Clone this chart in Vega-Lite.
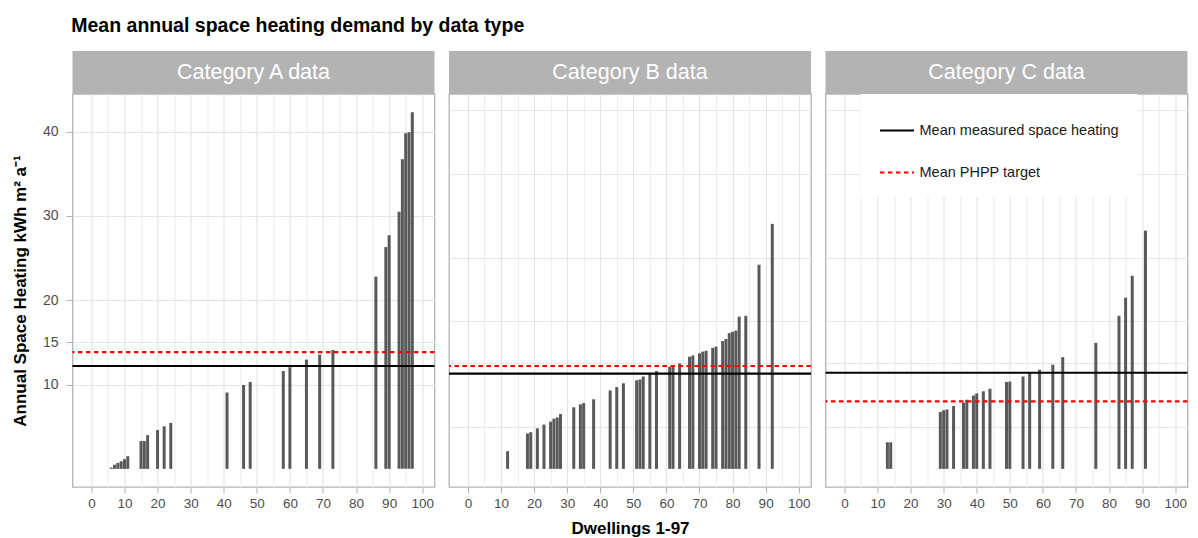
{
  "$schema": "https://vega.github.io/schema/vega-lite/v6.json",
  "padding": {"left": 10.5, "top": 15, "right": 0, "bottom": 0},
  "spacing": 10.5,
  "title": {
    "text": "Mean annual space heating demand by data type",
    "anchor": "start",
    "fontSize": 19.5,
    "fontWeight": "bold",
    "color": "#000000",
    "dx": 60,
    "offset": 15
  },
  "hconcat": [
    {
      "bounds": "flush",
      "spacing": 0,
      "vconcat": [
        {
          "width": 362,
          "height": 43,
          "view": {"fill": "#B3B3B3", "stroke": null},
          "data": {"values": [{"strip": "Category A data"}]},
          "mark": {"type": "text", "color": "#FFFFFF", "fontSize": 21.5, "align": "center", "baseline": "middle"},
          "encoding": {"text": {"field": "strip"}}
        },
        {
          "width": 362,
          "height": 393,
          "resolve": {"axis": {"y": "independent"}},
          "layer": [
            {
              "data": {"values": [
                {"dwelling": 6, "heating": 0.15}, {"dwelling": 7, "heating": 0.5}, {"dwelling": 8, "heating": 0.7},
                {"dwelling": 9, "heating": 0.9}, {"dwelling": 10, "heating": 1.15}, {"dwelling": 11, "heating": 1.5},
                {"dwelling": 15, "heating": 3.3}, {"dwelling": 16, "heating": 3.3}, {"dwelling": 17, "heating": 4.0},
                {"dwelling": 20, "heating": 4.6}, {"dwelling": 22, "heating": 5.05}, {"dwelling": 24, "heating": 5.45},
                {"dwelling": 41, "heating": 9.05}, {"dwelling": 46, "heating": 9.95}, {"dwelling": 48, "heating": 10.3},
                {"dwelling": 58, "heating": 11.6}, {"dwelling": 60, "heating": 12.05}, {"dwelling": 65, "heating": 12.95},
                {"dwelling": 69, "heating": 13.55}, {"dwelling": 73, "heating": 14.1}, {"dwelling": 86, "heating": 22.8},
                {"dwelling": 89, "heating": 26.3}, {"dwelling": 90, "heating": 27.7}, {"dwelling": 93, "heating": 30.5},
                {"dwelling": 94, "heating": 36.7}, {"dwelling": 95, "heating": 39.8}, {"dwelling": 96, "heating": 39.9},
                {"dwelling": 97, "heating": 42.3}
              ]},
              "mark": {"type": "bar", "size": 3, "color": "#595959"},
              "encoding": {
                "x": {
                  "field": "dwelling", "type": "quantitative",
                  "scale": {"domain": [-4.2, 102.2], "nice": false, "zero": false},
                  "axis": {
                    "title": null,
                    "values": [0, 5, 10, 15, 20, 25, 30, 35, 40, 45, 50, 55, 60, 65, 70, 75, 80, 85, 90, 95, 100],
                    "labelExpr": "datum.value % 10 === 0 ? datum.label : ''",
                    "tickOpacity": {"condition": {"test": "datum.value % 10 === 0", "value": 1}, "value": 0},
                    "gridColor": {"condition": {"test": "datum.value % 10 === 0", "value": "#E4E4E4"}, "value": "#EEEEEE"}
                  }
                },
                "y": {
                  "field": "heating", "type": "quantitative",
                  "scale": {"domain": [-2.15, 44.45], "nice": false, "zero": false},
                  "axis": {
                    "title": "Annual Space Heating kWh m² a⁻¹",
                    "orient": "left",
                    "values": [10, 15, 20, 30, 40],
                    "gridColor": "#E4E4E4"
                  }
                },
                "y2": {"datum": 0}
              }
            },
            {
              "data": {"values": [
                {"series": "Mean measured space heating", "mean": 12.2},
                {"series": "Mean PHPP target", "mean": 13.85}
              ]},
              "mark": {"type": "rule", "strokeWidth": 2.2},
              "encoding": {
                "y": {
                  "field": "mean", "type": "quantitative",
                  "axis": {
                    "title": null, "orient": "left", "labels": false, "ticks": false,
                    "values": [5, 12.5, 17.5, 25, 35, 42.5],
                    "gridColor": "#EBEBEB"
                  }
                },
                "color": {
                  "field": "series", "type": "nominal",
                  "scale": {"domain": ["Mean measured space heating", "Mean PHPP target"], "range": ["#000000", "#FF0000"]},
                  "legend": {"title": null, "orient": "none", "legendX": 788, "legendY": 43}
                },
                "strokeDash": {
                  "field": "series", "type": "nominal",
                  "scale": {"domain": ["Mean measured space heating", "Mean PHPP target"], "range": [[1, 0], [4.5, 3.5]]},
                  "legend": {"title": null, "orient": "none", "legendX": 788, "legendY": 43}
                }
              }
            }
          ]
        }
      ]
    },
    {
      "bounds": "flush",
      "spacing": 0,
      "vconcat": [
        {
          "width": 362,
          "height": 43,
          "view": {"fill": "#B3B3B3", "stroke": null},
          "data": {"values": [{"strip": "Category B data"}]},
          "mark": {"type": "text", "color": "#FFFFFF", "fontSize": 21.5, "align": "center", "baseline": "middle"},
          "encoding": {"text": {"field": "strip"}}
        },
        {
          "width": 362,
          "height": 393,
          "layer": [
            {
              "data": {"values": [
                {"dwelling": 12, "heating": 2.1}, {"dwelling": 18, "heating": 4.2}, {"dwelling": 19, "heating": 4.35},
                {"dwelling": 21, "heating": 4.8}, {"dwelling": 23, "heating": 5.25}, {"dwelling": 25, "heating": 5.6},
                {"dwelling": 26, "heating": 5.95}, {"dwelling": 27, "heating": 6.1}, {"dwelling": 28, "heating": 6.5},
                {"dwelling": 32, "heating": 7.3}, {"dwelling": 34, "heating": 7.65}, {"dwelling": 35, "heating": 7.8},
                {"dwelling": 38, "heating": 8.25}, {"dwelling": 43, "heating": 9.3}, {"dwelling": 45, "heating": 9.7},
                {"dwelling": 47, "heating": 10.15}, {"dwelling": 51, "heating": 10.5}, {"dwelling": 52, "heating": 10.6},
                {"dwelling": 53, "heating": 10.95}, {"dwelling": 55, "heating": 11.25}, {"dwelling": 57, "heating": 11.6},
                {"dwelling": 61, "heating": 12.1}, {"dwelling": 62, "heating": 12.25}, {"dwelling": 64, "heating": 12.5},
                {"dwelling": 67, "heating": 13.3}, {"dwelling": 68, "heating": 13.45}, {"dwelling": 70, "heating": 13.7},
                {"dwelling": 71, "heating": 13.9}, {"dwelling": 72, "heating": 14.0}, {"dwelling": 74, "heating": 14.35},
                {"dwelling": 75, "heating": 14.5}, {"dwelling": 77, "heating": 15.15}, {"dwelling": 78, "heating": 15.4},
                {"dwelling": 79, "heating": 16.1}, {"dwelling": 80, "heating": 16.25}, {"dwelling": 81, "heating": 16.4},
                {"dwelling": 82, "heating": 18.05}, {"dwelling": 84, "heating": 18.15}, {"dwelling": 88, "heating": 24.2},
                {"dwelling": 92, "heating": 29.05}
              ]},
              "mark": {"type": "bar", "size": 3, "color": "#595959"},
              "encoding": {
                "x": {
                  "field": "dwelling", "type": "quantitative",
                  "scale": {"domain": [-4.2, 102.2], "nice": false, "zero": false},
                  "axis": {
                    "title": "Dwellings 1-97",
                    "values": [0, 5, 10, 15, 20, 25, 30, 35, 40, 45, 50, 55, 60, 65, 70, 75, 80, 85, 90, 95, 100],
                    "labelExpr": "datum.value % 10 === 0 ? datum.label : ''",
                    "tickOpacity": {"condition": {"test": "datum.value % 10 === 0", "value": 1}, "value": 0},
                    "gridColor": {"condition": {"test": "datum.value % 10 === 0", "value": "#E4E4E4"}, "value": "#EEEEEE"}
                  }
                },
                "y": {
                  "field": "heating", "type": "quantitative",
                  "scale": {"domain": [-2.15, 44.45], "nice": false, "zero": false},
                  "axis": {
                    "title": null, "labels": false, "ticks": false,
                    "values": [5, 10, 12.5, 15, 17.5, 20, 25, 30, 35, 40, 42.5],
                    "gridColor": "#E6E6E6"
                  }
                },
                "y2": {"datum": 0}
              }
            },
            {
              "data": {"values": [
                {"series": "Mean measured space heating", "mean": 11.3},
                {"series": "Mean PHPP target", "mean": 12.2}
              ]},
              "mark": {"type": "rule", "strokeWidth": 2.2},
              "encoding": {
                "y": {"field": "mean", "type": "quantitative"},
                "color": {
                  "field": "series", "type": "nominal",
                  "scale": {"domain": ["Mean measured space heating", "Mean PHPP target"], "range": ["#000000", "#FF0000"]},
                  "legend": {"title": null, "orient": "none", "legendX": 788, "legendY": 43}
                },
                "strokeDash": {
                  "field": "series", "type": "nominal",
                  "scale": {"domain": ["Mean measured space heating", "Mean PHPP target"], "range": [[1, 0], [4.5, 3.5]]},
                  "legend": {"title": null, "orient": "none", "legendX": 788, "legendY": 43}
                }
              }
            }
          ]
        }
      ]
    },
    {
      "bounds": "flush",
      "spacing": 0,
      "vconcat": [
        {
          "width": 362,
          "height": 43,
          "view": {"fill": "#B3B3B3", "stroke": null},
          "data": {"values": [{"strip": "Category C data"}]},
          "mark": {"type": "text", "color": "#FFFFFF", "fontSize": 21.5, "align": "center", "baseline": "middle"},
          "encoding": {"text": {"field": "strip"}}
        },
        {
          "width": 362,
          "height": 393,
          "layer": [
            {
              "data": {"values": [
                {"dwelling": 13, "heating": 3.15}, {"dwelling": 14, "heating": 3.15}, {"dwelling": 29, "heating": 6.75},
                {"dwelling": 30, "heating": 6.95}, {"dwelling": 31, "heating": 7.05}, {"dwelling": 33, "heating": 7.45},
                {"dwelling": 36, "heating": 7.85}, {"dwelling": 37, "heating": 8.2}, {"dwelling": 39, "heating": 8.7},
                {"dwelling": 40, "heating": 8.95}, {"dwelling": 42, "heating": 9.2}, {"dwelling": 44, "heating": 9.5},
                {"dwelling": 49, "heating": 10.3}, {"dwelling": 50, "heating": 10.35}, {"dwelling": 54, "heating": 10.95},
                {"dwelling": 56, "heating": 11.4}, {"dwelling": 59, "heating": 11.75}, {"dwelling": 63, "heating": 12.35},
                {"dwelling": 66, "heating": 13.25}, {"dwelling": 76, "heating": 14.95}, {"dwelling": 83, "heating": 18.15},
                {"dwelling": 85, "heating": 20.3}, {"dwelling": 87, "heating": 22.9}, {"dwelling": 91, "heating": 28.25}
              ]},
              "mark": {"type": "bar", "size": 3, "color": "#595959"},
              "encoding": {
                "x": {
                  "field": "dwelling", "type": "quantitative",
                  "scale": {"domain": [-4.2, 102.2], "nice": false, "zero": false},
                  "axis": {
                    "title": null,
                    "values": [0, 5, 10, 15, 20, 25, 30, 35, 40, 45, 50, 55, 60, 65, 70, 75, 80, 85, 90, 95, 100],
                    "labelExpr": "datum.value % 10 === 0 ? datum.label : ''",
                    "tickOpacity": {"condition": {"test": "datum.value % 10 === 0", "value": 1}, "value": 0},
                    "gridColor": {"condition": {"test": "datum.value % 10 === 0", "value": "#E4E4E4"}, "value": "#EEEEEE"}
                  }
                },
                "y": {
                  "field": "heating", "type": "quantitative",
                  "scale": {"domain": [-2.15, 44.45], "nice": false, "zero": false},
                  "axis": {
                    "title": null, "labels": false, "ticks": false,
                    "values": [5, 10, 12.5, 15, 17.5, 20, 25, 30, 35, 40, 42.5],
                    "gridColor": "#E6E6E6"
                  }
                },
                "y2": {"datum": 0}
              }
            },
            {
              "data": {"values": [
                {"series": "Mean measured space heating", "mean": 11.4},
                {"series": "Mean PHPP target", "mean": 8.0}
              ]},
              "mark": {"type": "rule", "strokeWidth": 2.2},
              "encoding": {
                "y": {"field": "mean", "type": "quantitative"},
                "color": {
                  "field": "series", "type": "nominal",
                  "scale": {"domain": ["Mean measured space heating", "Mean PHPP target"], "range": ["#000000", "#FF0000"]},
                  "legend": {"title": null, "orient": "none", "legendX": 788, "legendY": 43}
                },
                "strokeDash": {
                  "field": "series", "type": "nominal",
                  "scale": {"domain": ["Mean measured space heating", "Mean PHPP target"], "range": [[1, 0], [4.5, 3.5]]},
                  "legend": {"title": null, "orient": "none", "legendX": 788, "legendY": 43}
                }
              }
            }
          ]
        }
      ]
    }
  ],
  "config": {
    "font": "Liberation Sans",
    "view": {"stroke": "#B3B3B3", "strokeWidth": 1.3},
    "axis": {
      "domain": false,
      "grid": true,
      "gridWidth": 1.2,
      "tickColor": "#B3B3B3",
      "tickSize": 6,
      "tickWidth": 1,
      "labelColor": "#4D4D4D",
      "labelFontSize": 13.5,
      "labelOverlap": false,
      "labelFlush": false,
      "titleFontSize": 17,
      "titleFontWeight": "bold",
      "titleColor": "#000000"
    },
    "axisX": {"labelPadding": 3, "titlePadding": 11},
    "axisY": {"labelPadding": 8, "titlePadding": 12.5, "tickSize": 6.5, "labelFontSize": 14},
    "legend": {
      "fillColor": "#FFFFFF",
      "padding": 18,
      "symbolType": "stroke",
      "symbolSize": 1156,
      "symbolStrokeWidth": 2.2,
      "labelFontSize": 14.5,
      "labelColor": "#1A1A1A",
      "labelOffset": 4,
      "labelLimit": 0,
      "rowPadding": 17
    }
  }
}
